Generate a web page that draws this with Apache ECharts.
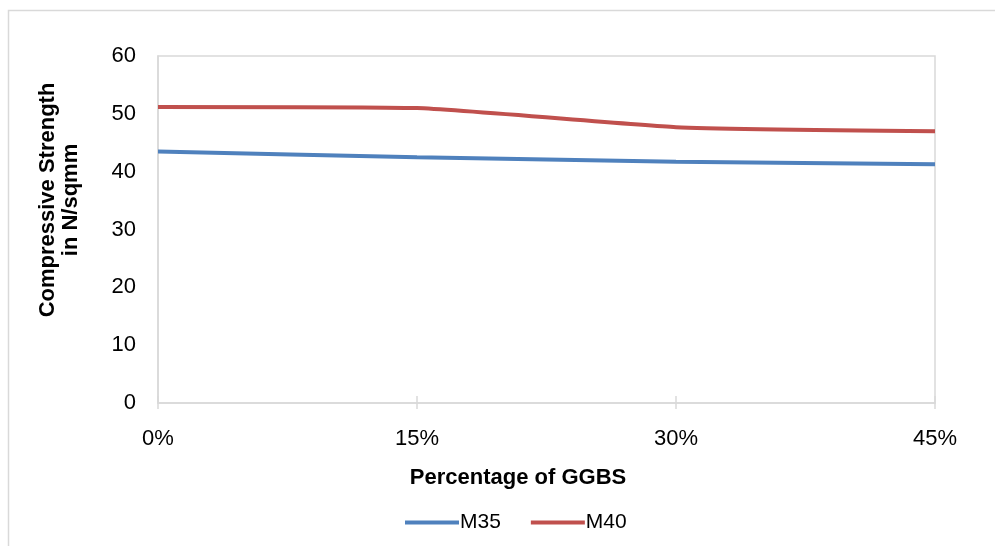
<!DOCTYPE html>
<html>
<head>
<meta charset="utf-8">
<script src="https://cdn.jsdelivr.net/npm/echarts@6/dist/echarts.min.js"></script>
<style>
    html, body { margin: 0; padding: 0; background: #fff; }
    #chart { width: 995px; height: 546px; }
</style>
</head>
<body>
<div id="chart"></div>
<script>
const categories = ['0%', '15%', '30%', '45%']
const m35 = [43.5, 42.5, 41.7, 41.3]
const m40 = [51.2, 51.0, 47.7, 47.0]
const yTicks = [0, 10, 20, 30, 40, 50, 60]

const font = '"Liberation Sans", Arial, sans-serif'
const chart = echarts.init(document.getElementById('chart'))

const option = {
    animation: false,
    backgroundColor: '#fff',
    grid: {
        left: 158,
        right: 60,
        top: 56,
        bottom: 143,
        show: true,
        borderColor: '#d9d9d9',
        borderWidth: 1.5,
    },
    legend: {
        data: ['M35', 'M40'],
        left: 400,
        top: 507,
        itemWidth: 54,
        itemHeight: 4,
        itemGap: 30,
        textStyle: { fontFamily: font, fontSize: 21, color: '#000', padding: [0, 0, 0, -4] },
        icon: 'rect',
    },
    xAxis: [
        {
            type: 'category',
            data: categories,
            boundaryGap: false,
            axisLine: { lineStyle: { color: '#d9d9d9', width: 1.5 } },
            axisTick: { length: 6, lineStyle: { color: '#d9d9d9', width: 1.5 } },
            axisLabel: { fontFamily: font, fontSize: 22, color: '#000', margin: 25 },
        },
        {
            // upper half of the crossing tick marks
            type: 'category',
            data: categories,
            boundaryGap: false,
            position: 'bottom',
            axisLine: { show: false },
            axisTick: { inside: true, length: 7, lineStyle: { color: '#d9d9d9', width: 1.5 } },
            axisLabel: { show: false },
        },
    ],
    yAxis: {
        type: 'value',
        min: yTicks[0],
        max: yTicks[yTicks.length - 1],
        interval: 10,
        axisLine: { show: true, lineStyle: { color: '#d9d9d9', width: 1.5 } },
        axisTick: { show: false },
        splitLine: { show: false },
        axisLabel: { fontFamily: font, fontSize: 22, color: '#000', margin: 22 },
    },
    graphic: [
        {
            type: 'rect',
            shape: { x: 8.5, y: 10.5, width: 1000, height: 600 },
            style: { fill: 'none', stroke: '#d9d9d9', lineWidth: 1.5 },
            silent: true,
        },
        {
            type: 'text',
            x: 59,
            y: 200,
            rotation: Math.PI / 2,
            style: {
                text: 'Compressive Strength\nin N/sqmm',
                fontFamily: font,
                fontSize: 22,
                fontWeight: 'bold',
                lineHeight: 23,
                fill: '#000',
                align: 'center',
                verticalAlign: 'middle',
            },
        },
        {
            type: 'text',
            x: 518,
            y: 478,
            style: {
                text: 'Percentage of GGBS',
                fontFamily: font,
                fontSize: 22,
                fontWeight: 'bold',
                fill: '#000',
                align: 'center',
                verticalAlign: 'middle',
            },
        },
    ],
    series: [
        {
            name: 'M35',
            type: 'line',
            data: m35,
            smooth: 0.15,
            symbol: 'none',
            color: '#4f81bd',
            lineStyle: { width: 4, color: '#4f81bd' },
        },
        {
            name: 'M40',
            type: 'line',
            data: m40,
            smooth: 0.15,
            symbol: 'none',
            color: '#c0504d',
            lineStyle: { width: 4, color: '#c0504d' },
        },
    ],
}
chart.setOption(option)
</script>
</body>
</html>
